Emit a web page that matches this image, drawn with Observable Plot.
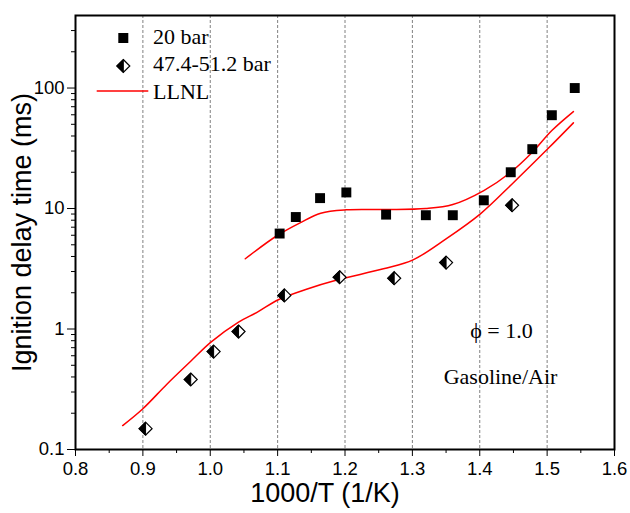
<!DOCTYPE html>
<html><head><meta charset="utf-8">
<script src="https://cdn.jsdelivr.net/npm/d3@7"></script>
<script src="https://cdn.jsdelivr.net/npm/@observablehq/plot@0.6"></script>
<style>
body{margin:0;background:#fff;}
#chart{position:relative;width:630px;height:513px;}
</style></head><body><div id="chart"></div>
<script>
// 20 bar measurements
const x20 = [1.103, 1.127, 1.163, 1.202, 1.261, 1.320, 1.360, 1.406, 1.446, 1.478, 1.507, 1.541];
const y20 = [6.2, 8.5, 12.2, 13.6, 8.9, 8.8, 8.8, 11.7, 20.0, 31.1, 59.5, 100];
// 47.4-51.2 bar measurements
const xHi = [0.904, 0.971, 1.005, 1.042, 1.110, 1.192, 1.273, 1.350, 1.448];
const yHi = [0.149, 0.381, 0.650, 0.953, 1.90, 2.69, 2.64, 3.56, 10.65];
// LLNL model curves
const xFit20 = [1.052, 1.100, 1.134, 1.164, 1.202, 1.261, 1.320, 1.360, 1.406, 1.446, 1.478, 1.507, 1.539];
const yFit20 = [3.83, 6.0, 7.65, 9.15, 9.75, 9.8, 10.0, 10.8, 14.1, 20.0, 29.3, 44.4, 63.8];
const xFitHi = [0.870, 0.900, 0.936, 0.971, 1.001, 1.042, 1.070, 1.101, 1.144, 1.188, 1.257, 1.301, 1.350, 1.401, 1.448, 1.501, 1.539];
const yFitHi = [0.158, 0.218, 0.35, 0.54, 0.778, 1.14, 1.38, 1.75, 2.15, 2.55, 3.16, 3.75, 5.6, 9.04, 16.0, 31.3, 51.4];
// axes
const xTicks = [0.8, 0.9, 1.0, 1.1, 1.2, 1.3, 1.4, 1.5, 1.6];
const xMinor = [0.85, 0.95, 1.05, 1.15, 1.25, 1.35, 1.45, 1.55];
const xGrid = [0.9, 1.0, 1.1, 1.2, 1.3, 1.4, 1.5];
const yTicks = [0.1, 1, 10, 100];
const yTickLabels = ["0.1", "1", "10", "100"];
const yMinor = [0.2,0.3,0.4,0.5,0.6,0.7,0.8,0.9,2,3,4,5,6,7,8,9,20,30,40,50,60,70,80,90,200,300];
const seriesNames = ["20 bar", "47.4-51.2 bar", "LLNL"];
const xLabel = "1000/T (1/K)";
const yLabel = "Ignition delay time (ms)";
const notes = ["\u03d5 = 1.0", "Gasoline/Air"];

const pts20 = x20.map((x, i) => ({x, y: y20[i]}));
const ptsHi = xHi.map((x, i) => ({x, y: yHi[i]}));
const fit20 = xFit20.map((x, i) => ({x, y: yFit20[i]}));
const fitHi = xFitHi.map((x, i) => ({x, y: yFitHi[i]}));

const SERIF = "'Liberation Serif', 'Times New Roman', serif";
const SANS = "'Liberation Sans', Arial, sans-serif";

const diamondOutline = {draw(ctx, size) { const r = Math.sqrt(size / Math.PI);
  ctx.moveTo(0, -r); ctx.lineTo(r, 0); ctx.lineTo(0, r); ctx.lineTo(-r, 0); ctx.closePath(); }};
const diamondLeft = {draw(ctx, size) { const r = Math.sqrt(size / Math.PI);
  ctx.moveTo(0, -r); ctx.lineTo(0, r); ctx.lineTo(-r, 0); ctx.closePath(); }};

const chart = Plot.plot({
  width: 630, height: 513,
  marginLeft: 75, marginRight: 16, marginTop: 15, marginBottom: 64,
  style: {fontFamily: SANS, background: "#fff", color: "#000"},
  x: {domain: [0.8, 1.6]},
  y: {type: "log", domain: [0.1, 400]},
  marks: [
    Plot.ruleX(xGrid, {stroke: "#808080", strokeWidth: 1, strokeDasharray: "3,2"}),
    Plot.axisX({ticks: xTicks, tickFormat: d3.format(".1f"), tickSize: 7, tickPadding: 5, tickWidth: 2, fontSize: 18.5, label: null}),
    Plot.axisX({ticks: xMinor, tickSize: 4, tickWidth: 2, text: null, label: null}),
    Plot.axisY({ticks: yTicks, tickFormat: (d) => yTickLabels[yTicks.indexOf(d)], tickSize: 8, tickPadding: 3, tickWidth: 2, fontSize: 18.5, label: null}),
    Plot.axisY({ticks: yMinor, tickSize: 4, tickWidth: 1.5, text: null, label: null}),
    Plot.frame({stroke: "#000", strokeWidth: 2}),
    Plot.line(fit20, {x: "x", y: "y", curve: "catmull-rom", stroke: "#ff0000", strokeWidth: 1.5}),
    Plot.line(fitHi, {x: "x", y: "y", curve: "catmull-rom", stroke: "#ff0000", strokeWidth: 1.5}),
    Plot.dot(pts20, {x: "x", y: "y", symbol: "square", r: 5.6, fill: "#000", stroke: "none"}),
    Plot.dot(ptsHi, {x: "x", y: "y", symbol: diamondOutline, r: 6.5, fill: "#fff", stroke: "#000", strokeWidth: 1.2}),
    Plot.dot(ptsHi, {x: "x", y: "y", symbol: diamondLeft, r: 6.5, fill: "#000", stroke: "#000", strokeWidth: 1}),
    Plot.text([xLabel], {frameAnchor: "bottom", dx: -20, dy: 52, textAnchor: "middle", fontSize: 27, fontFamily: SANS, fill: "#000"}),
    Plot.text([yLabel], {frameAnchor: "left", rotate: -90, dx: -53, textAnchor: "middle", fontSize: 27, fontFamily: SANS, fill: "#000"}),
    Plot.text([notes[0]], {frameAnchor: "bottom-right", dx: -113, dy: -112, textAnchor: "middle", fontSize: 22, fontFamily: SERIF, fill: "#000"}),
    Plot.text([notes[1]], {frameAnchor: "bottom-right", dx: -114, dy: -66, textAnchor: "middle", fontSize: 22, fontFamily: SERIF, fill: "#000"})
  ]
});
document.getElementById("chart").appendChild(chart);

// legend (inside plot, top-left)
const svg = d3.select(chart);
const lg = svg.append("g").attr("font-family", SERIF).attr("font-size", 22).attr("fill", "#000").attr("text-anchor", "start");
const rows = [38, 66, 91];
lg.append("rect").attr("x", 118.3).attr("y", rows[0] - 5).attr("width", 10).attr("height", 10).attr("fill", "#000");
lg.append("path").attr("d", d3.symbol(diamondOutline, Math.PI * 6.5 * 6.5)()).attr("transform", `translate(123.3,${rows[1]})`).attr("fill", "#fff").attr("stroke", "#000").attr("stroke-width", 1.2);
lg.append("path").attr("d", d3.symbol(diamondLeft, Math.PI * 6.5 * 6.5)()).attr("transform", `translate(123.3,${rows[1]})`).attr("fill", "#000").attr("stroke", "#000");
lg.append("line").attr("x1", 96.7).attr("x2", 148.3).attr("y1", rows[2]).attr("y2", rows[2]).attr("stroke", "#ff0000").attr("stroke-width", 1.5);
seriesNames.forEach((n, i) => {
  lg.append("text").attr("x", 153).attr("y", [43.5, 71, 98.5][i]).attr("text-anchor", "start").text(n);
});
</script></body></html>
